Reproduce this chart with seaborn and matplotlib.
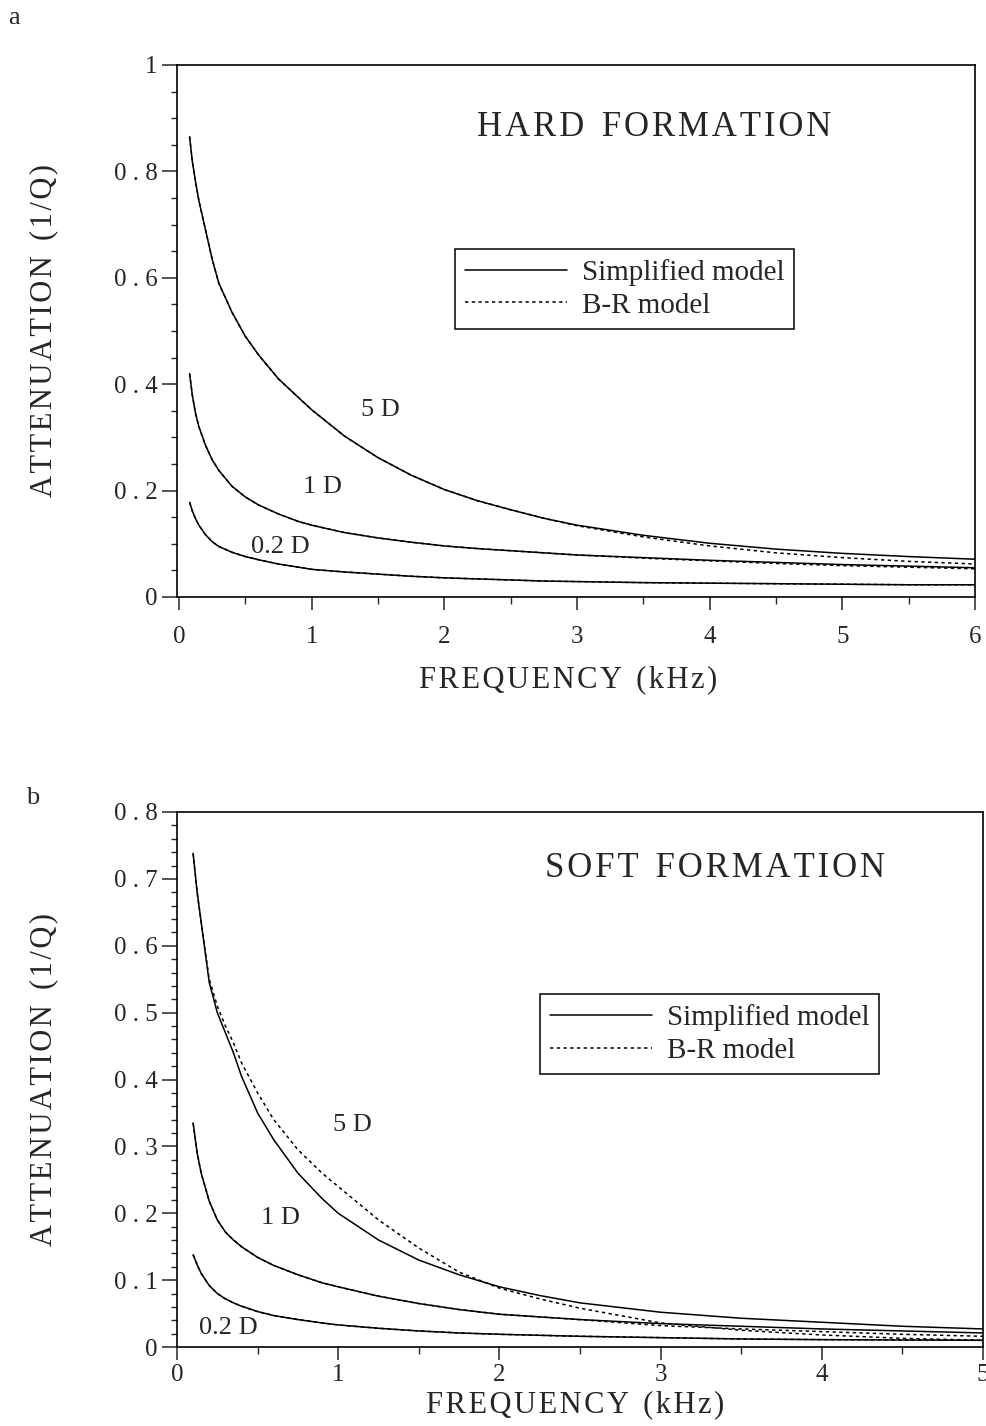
import matplotlib
matplotlib.use("Agg")
import matplotlib.pyplot as plt
import seaborn as sns
from matplotlib.ticker import MultipleLocator

# ---- panel a: hard formation ----
freq_a = [0.08, 0.1, 0.125, 0.15, 0.2, 0.25, 0.3, 0.4, 0.5, 0.6, 0.75, 0.9, 1.0,
          1.25, 1.5, 1.75, 2.0, 2.25, 2.5, 2.75, 3.0, 3.5, 4.0, 4.5, 5.0, 5.5, 6.0]
hard_5d_simple = [0.865, 0.82, 0.78, 0.745, 0.69, 0.635, 0.59, 0.535, 0.49, 0.455,
                  0.41, 0.375, 0.352, 0.302, 0.262, 0.229, 0.202, 0.181, 0.164,
                  0.148, 0.135, 0.116, 0.101, 0.090, 0.082, 0.076, 0.071]
hard_5d_br = [0.865, 0.82, 0.78, 0.745, 0.69, 0.635, 0.59, 0.535, 0.49, 0.455,
              0.41, 0.375, 0.352, 0.302, 0.262, 0.229, 0.202, 0.181, 0.164,
              0.148, 0.134, 0.113, 0.096, 0.083, 0.074, 0.067, 0.062]
hard_1d_simple = [0.42, 0.38, 0.345, 0.32, 0.285, 0.258, 0.238, 0.208, 0.188, 0.173,
                  0.156, 0.142, 0.135, 0.121, 0.111, 0.103, 0.096, 0.091, 0.087,
                  0.083, 0.079, 0.074, 0.069, 0.065, 0.061, 0.058, 0.055]
hard_1d_br = [0.42, 0.38, 0.345, 0.32, 0.285, 0.258, 0.238, 0.208, 0.188, 0.173,
              0.156, 0.142, 0.135, 0.121, 0.111, 0.103, 0.096, 0.091, 0.087,
              0.083, 0.079, 0.073, 0.068, 0.063, 0.059, 0.056, 0.053]
hard_02d_simple = [0.178, 0.162, 0.147, 0.135, 0.117, 0.104, 0.095, 0.084, 0.076,
                   0.070, 0.062, 0.056, 0.052, 0.047, 0.043, 0.039, 0.036, 0.034,
                   0.032, 0.030, 0.029, 0.027, 0.026, 0.025, 0.024, 0.023, 0.023]
hard_02d_br = hard_02d_simple

# ---- panel b: soft formation ----
freq_b = [0.1, 0.125, 0.15, 0.2, 0.25, 0.3, 0.35, 0.4, 0.5, 0.6, 0.75, 0.9, 1.0,
          1.25, 1.5, 1.75, 2.0, 2.25, 2.5, 3.0, 3.5, 4.0, 4.5, 5.0]
soft_5d_simple = [0.738, 0.68, 0.635, 0.545, 0.50, 0.47, 0.44, 0.405, 0.35, 0.31,
                  0.26, 0.222, 0.20, 0.16, 0.13, 0.108, 0.09, 0.077, 0.066, 0.052,
                  0.043, 0.037, 0.031, 0.027]
soft_5d_br = [0.738, 0.68, 0.635, 0.55, 0.51, 0.48, 0.455, 0.425, 0.38, 0.34,
              0.295, 0.26, 0.24, 0.19, 0.148, 0.112, 0.088, 0.072, 0.058, 0.036,
              0.025, 0.018, 0.013, 0.010]
soft_1d_simple = [0.335, 0.29, 0.26, 0.218, 0.19, 0.172, 0.16, 0.15, 0.134, 0.122,
                  0.108, 0.096, 0.09, 0.076, 0.065, 0.056, 0.049, 0.045, 0.041,
                  0.035, 0.031, 0.027, 0.024, 0.021]
soft_1d_br = [0.335, 0.29, 0.26, 0.218, 0.19, 0.172, 0.16, 0.15, 0.134, 0.122,
              0.108, 0.096, 0.09, 0.076, 0.065, 0.056, 0.049, 0.045, 0.041,
              0.032, 0.027, 0.023, 0.019, 0.016]
soft_02d_simple = [0.138, 0.123, 0.11, 0.092, 0.08, 0.072, 0.066, 0.061, 0.053,
                   0.047, 0.041, 0.036, 0.033, 0.028, 0.024, 0.021, 0.019, 0.0175,
                   0.016, 0.014, 0.012, 0.011, 0.0105, 0.010]
soft_02d_br = soft_02d_simple

curve_names = ["5 D", "1 D", "0.2 D"]
ytick_a = ["0", "0 . 2", "0 . 4", "0 . 6", "0 . 8", "1"]
ytick_b = ["0", "0 . 1", "0 . 2", "0 . 3", "0 . 4", "0 . 5", "0 . 6", "0 . 7", "0 . 8"]

sns.set_style("ticks")
plt.rcParams["font.family"] = ["Liberation Serif", "DejaVu Serif"]
plt.rcParams["axes.linewidth"] = 1.2

HAIR = "\u200a"


def spaced(words, sep=HAIR):
    # the scanned labels are letter-spaced
    return "  ".join(sep.join(w) for w in words.split())


fig = plt.figure(figsize=(9.87, 14.26), dpi=100)
ax_a = fig.add_axes([177 / 987, 1 - 597 / 1426, 798 / 987, 532 / 1426])
ax_b = fig.add_axes([177 / 987, 1 - 1347 / 1426, 806 / 987, 535 / 1426])

dot = (0, (2.2, 2.2))
lw = 1.1


def draw_panel(ax, freq, simple, br, labels_pos):
    for i, (s, b) in enumerate(zip(simple, br)):
        sns.lineplot(x=freq, y=b, ax=ax, color="black", linewidth=lw,
                     linestyle=dot, label="B-R model" if i == 0 else None)
        sns.lineplot(x=freq, y=s, ax=ax, color="black", linewidth=lw,
                     label="Simplified model" if i == 0 else None)
    for name, (fx, fy) in zip(curve_names, labels_pos):
        ax.text(fx, fy, name, fontsize=19, ha="center", va="center")


draw_panel(ax_a, freq_a,
           [hard_5d_simple, hard_1d_simple, hard_02d_simple],
           [hard_5d_br, hard_1d_br, hard_02d_br],
           [(1.52, 0.351), (1.08, 0.207), (0.76, 0.094)])
draw_panel(ax_b, freq_b,
           [soft_5d_simple, soft_1d_simple, soft_02d_simple],
           [soft_5d_br, soft_1d_br, soft_02d_br],
           [(1.09, 0.332), (0.64, 0.193), (0.32, 0.028)])

# axes limits / ticks
ax_a.set_xlim(-0.015, 6)
ax_a.set_ylim(0, 1)
ax_a.yaxis.set_minor_locator(MultipleLocator(0.05))
ax_a.set_yticks([0, 0.2, 0.4, 0.6, 0.8, 1.0])
ax_a.set_yticklabels(ytick_a)

ax_b.set_xlim(0, 5)
ax_b.set_ylim(0, 0.8)
ax_b.yaxis.set_minor_locator(MultipleLocator(0.02))
ax_b.set_yticks([0, 0.1, 0.2, 0.3, 0.4, 0.5, 0.6, 0.7, 0.8])
ax_b.set_yticklabels(ytick_b)

for ax, xpad in ((ax_a, 12), (ax_b, 3)):
    ax.xaxis.set_major_locator(MultipleLocator(1))
    ax.xaxis.set_minor_locator(MultipleLocator(0.5))
    ax.tick_params(axis="y", which="major", length=11, width=1.1, pad=3,
                   labelsize=18, direction="out")
    ax.tick_params(axis="y", which="minor", length=4, width=1.0, direction="out")
    ax.tick_params(axis="x", which="major", length=9, width=1.1, pad=xpad,
                   labelsize=18, direction="out")
    ax.tick_params(axis="x", which="minor", length=5, width=1.0, direction="out")
    for sp in ax.spines.values():
        sp.set_visible(True)
        sp.set_linewidth(1.2)
        sp.set_color("black")
    ax.set_ylabel(spaced("ATTENUATION (1/Q)"), fontsize=22)
    ax.set_xlabel(spaced("FREQUENCY (kHz)"), fontsize=22)
    ax.yaxis.label.set_va("center")
    ax.xaxis.label.set_va("center")

ax_a.yaxis.set_label_coords(-0.167, 0.5)
ax_a.xaxis.set_label_coords(0.49, -0.156)
ax_b.yaxis.set_label_coords(-0.165, 0.5)
ax_b.xaxis.set_label_coords(0.494, -0.108)

ax_a.text(0.598, 0.883, spaced("HARD FORMATION"),
          transform=ax_a.transAxes, fontsize=25, ha="center", va="center")
ax_b.text(0.667, 0.895, spaced("SOFT FORMATION"),
          transform=ax_b.transAxes, fontsize=25, ha="center", va="center")

for ax, anchor in ((ax_a, (0.348, 0.655)), (ax_b, (0.45, 0.66))):
    handles, labels = ax.get_legend_handles_labels()
    order = [labels.index("Simplified model"), labels.index("B-R model")]
    leg = ax.legend([handles[i] for i in order], [labels[i] for i in order],
                    loc="upper left", bbox_to_anchor=anchor, fontsize=21,
                    frameon=True, fancybox=False, framealpha=1,
                    edgecolor="black", handlelength=3.5, handletextpad=0.5,
                    borderpad=0.35, labelspacing=0.22, borderaxespad=0)
    leg.get_frame().set_linewidth(1.1)

fig.text(14 / 987, 1 - 18 / 1426, "a", fontsize=19, ha="center", va="center")
fig.text(33 / 987, 1 - 798 / 1426, "b", fontsize=19, ha="center", va="center")

fig.savefig("out.png", dpi=100)
